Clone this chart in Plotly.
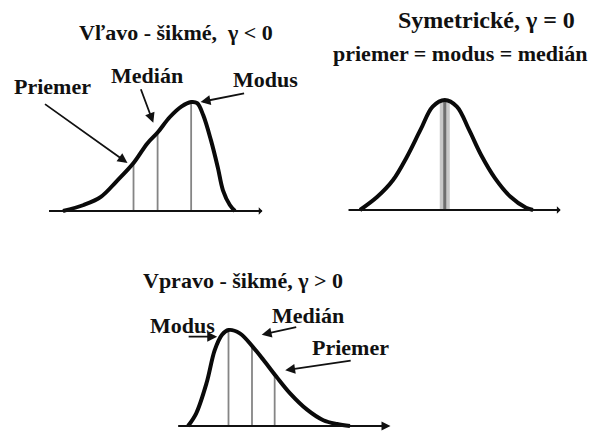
import numpy as np
import plotly.graph_objects as go

W, H = 596, 432

# Left-skewed distribution (relative density, peak = 1)
left_x = [0, 1.2, 2.2, 3.1, 4.1, 4.9, 5.5, 6.2, 6.9, 7.45, 7.8, 8.15, 8.6, 9.0, 9.3, 9.7, 10]
left_y = [0, 0.055, 0.13, 0.27, 0.44, 0.62, 0.72, 0.86, 0.96, 1.0, 0.99, 0.88, 0.65, 0.40, 0.19, 0.055, 0]
left_marks = {"Priemer": 4.1, "Medián": 5.5, "Modus": 7.45}

# Symmetric distribution
sym_x = [0, 1.0, 1.9, 2.7, 3.5, 4.2, 4.9, 5.6, 6.3, 7.0, 7.8, 8.7, 9.6, 10]
sym_y = [0, 0.12, 0.27, 0.48, 0.73, 0.94, 1.0, 0.94, 0.73, 0.50, 0.29, 0.12, 0.02, 0]
sym_center = 4.9

# Right-skewed distribution
right_x = [0, 0.5, 1.15, 1.65, 2.1, 2.5, 3.2, 4.0, 4.65, 5.45, 6.3, 7.35, 8.35, 9.2, 10]
right_y = [0, 0.13, 0.45, 0.79, 0.95, 1.0, 0.965, 0.825, 0.69, 0.515, 0.34, 0.17, 0.06, 0.02, 0]
right_marks = {"Modus": 2.5, "Medián": 3.95, "Priemer": 5.35}

FONT = "Liberation Serif"
XR = [-1.5, 13.5]
YR = [-0.05, 1.1]

# panel placement: origin x (px), px per x unit, baseline y (px), px per y unit, baseline extent
panels = {
    1: dict(x0=63, xu=17.2, base=211, yu=109, ax_from=-0.9, ax_to=11.6),
    2: dict(x0=360, xu=17.3, base=210, yu=110, ax_from=-0.75, ax_to=11.6),
    3: dict(x0=188, xu=16.2, base=426, yu=96, ax_from=-0.7, ax_to=12.5),
}

fig = go.Figure()
layout_axes = {}
annotations = []


def sfx(i):
    return "" if i == 1 else str(i)


for i, p in panels.items():
    dx = [(p["x0"] + XR[0] * p["xu"]) / W, (p["x0"] + XR[1] * p["xu"]) / W]
    dy = [1 - (p["base"] - YR[0] * p["yu"]) / H, 1 - (p["base"] - YR[1] * p["yu"]) / H]
    axis_common = dict(visible=False, showgrid=False, zeroline=False, fixedrange=True)
    layout_axes["xaxis" + sfx(i)] = dict(domain=dx, range=XR, anchor="y" + sfx(i), **axis_common)
    layout_axes["yaxis" + sfx(i)] = dict(domain=dy, range=YR, anchor="x" + sfx(i), **axis_common)
    # horizontal axis line with arrow
    annotations.append(dict(
        xref="x" + sfx(i), yref="y" + sfx(i), axref="x" + sfx(i), ayref="y" + sfx(i),
        x=p["ax_to"], y=0, ax=p["ax_from"], ay=0, text="", showarrow=True,
        arrowhead=2 if i == 3 else 1, arrowsize=1.0 if i == 3 else 0.7,
        arrowwidth=1.8, arrowcolor="#111", standoff=0, startstandoff=0,
    ))


def curve(xs, ys, i):
    fig.add_trace(go.Scatter(
        x=xs, y=ys, mode="lines", xaxis="x" + sfx(i), yaxis="y" + sfx(i),
        line=dict(color="#0a0a0a", width=4, shape="spline", smoothing=1.0),
        hoverinfo="skip", showlegend=False,
    ))


def vline(xs, ys, xv, i, color="#858585", width=1.8):
    top = float(np.interp(xv, xs, ys))
    fig.add_trace(go.Scatter(
        x=[xv, xv], y=[0, top], mode="lines", xaxis="x" + sfx(i), yaxis="y" + sfx(i),
        line=dict(color=color, width=width), hoverinfo="skip", showlegend=False,
    ))


for v in left_marks.values():
    vline(left_x, left_y, v, 1)
vline(sym_x, sym_y, sym_center, 2, color="#c8c8c8", width=10)
vline(sym_x, sym_y, sym_center, 2, color="#6e6e6e", width=3)
for v in right_marks.values():
    vline(right_x, right_y, v, 3)

curve(left_x, left_y, 1)
curve(sym_x, sym_y, 2)
curve(right_x, right_y, 3)


def arrow(i, hx, hy, ax, ay):
    annotations.append(dict(
        xref="x" + sfx(i), yref="y" + sfx(i), x=hx, y=hy, ax=ax, ay=ay,
        text="", showarrow=True, arrowhead=2, arrowsize=1.1, arrowwidth=1.8,
        arrowcolor="#111", standoff=0,
    ))


# pointer arrows
arrow(1, 3.75, 0.44, -84, -60)
arrow(1, 5.25, 0.81, -13, -35)
arrow(1, 8.0, 1.0, 45, -9)
arrow(3, 1.8, 0.93, -30, 0)
arrow(3, 4.55, 0.95, 36, -8)
arrow(3, 6.0, 0.58, 67, -10)


def label(text, px, py, size=22):
    annotations.append(dict(
        xref="paper", yref="paper", x=px / W, y=1 - py / H,
        xanchor="center", yanchor="middle", showarrow=False,
        text="<b>" + text + "</b>", font=dict(family=FONT, size=size, color="#111"),
    ))


label("Vľavo - šikmé,  γ < 0", 176, 33)
label("Priemer", 52, 87)
label("Medián", 147, 75)
label("Modus", 265, 80)
label("Symetrické, γ = 0", 486, 20, 24)
label("priemer = modus = medián", 460, 53, 22)
label("Vpravo - šikmé, γ > 0", 243, 280)
label("Modus", 183, 325)
label("Medián", 308, 315)
label("Priemer", 350, 347)

fig.update_layout(
    width=W, height=H, margin=dict(l=0, r=0, t=0, b=0),
    paper_bgcolor="white", plot_bgcolor="rgba(0,0,0,0)",
    annotations=annotations, showlegend=False, **layout_axes,
)

fig.write_html("out.html", config={"displayModeBar": False})
